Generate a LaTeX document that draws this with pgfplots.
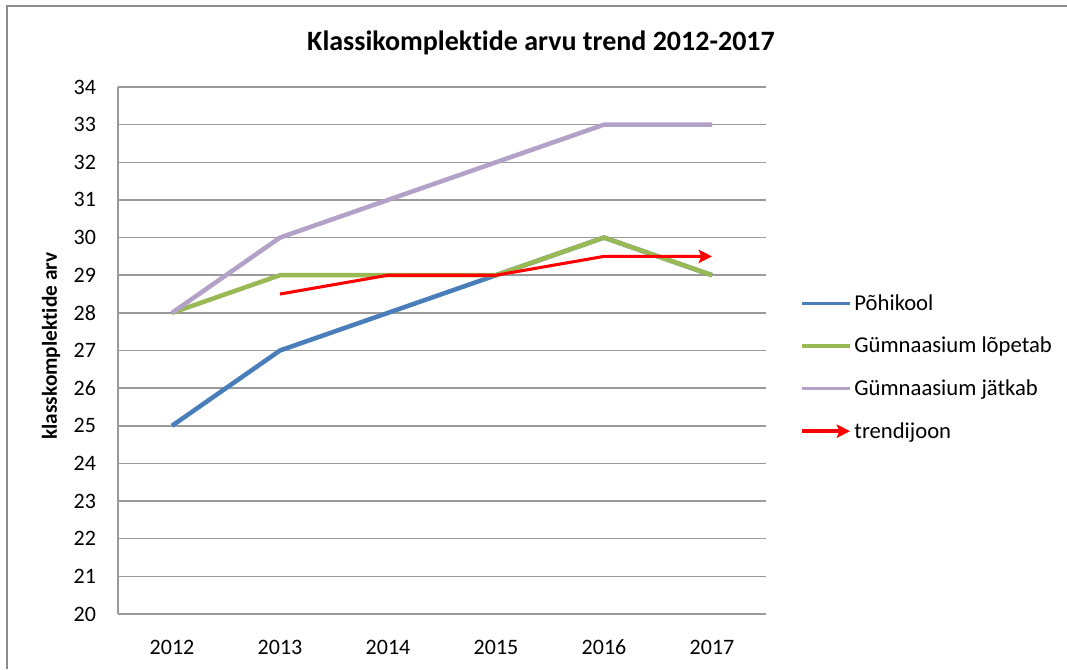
\documentclass[border=0pt]{standalone}
\usepackage{pgfplots}
\pgfplotsset{compat=1.18}
\usepackage{fontspec}
\setmainfont{Carlito}[Ligatures={NoCommon}]
\usetikzlibrary{arrows.meta}
\definecolor{cblue}{HTML}{4A7EBB}
\definecolor{cgreen}{HTML}{98B954}
\definecolor{cpurple}{HTML}{B3A2C7}
\definecolor{cgrid}{HTML}{9A9A9A}
\definecolor{cframe}{HTML}{8C8C8C}
\begin{document}
\begin{tikzpicture}[x=0.75pt,y=0.75pt]
\useasboundingbox (0,0) rectangle (1067,669);
\draw[cframe, line width=1.6pt] (7,0) -- (7,663) -- (1067,663);
\node[font=\fontsize{21}{25}\selectfont\bfseries] at (541,626) {Klassikomplektide arvu trend 2012-2017};
\node[rotate=90, font=\fontsize{16}{19}\selectfont\bfseries] at (51,323) {klasskomplektide arv};
\begin{axis}[
  at={(88.5pt,41.25pt)}, anchor=south west,
  scale only axis, width=486pt, height=395.25pt,
  xmin=2011.5, xmax=2017.5, ymin=20, ymax=34,
  xtick={2012,2013,2014,2015,2016,2017},
  ytick={20,21,...,34},
  axis x line*=bottom, axis y line*=left,
  axis line style={cgrid, line width=1.2pt, -},
  separate axis lines,
  major tick length=0pt,
  ymajorgrids, grid style={cgrid, line width=1.1pt},
  /pgf/number format/assume math mode=true,
  x tick label style={/pgf/number format/1000 sep={}, font=\fontsize{16.5}{19}\selectfont, yshift=-16pt},
  y tick label style={font=\fontsize{16.5}{19}\selectfont, xshift=-13pt},
  legend style={draw=none, fill=none, at={(1.0525,0.468)}, anchor=west,
    font=\fontsize{17}{20}\selectfont, row sep=14.6pt, inner sep=0pt},
  legend cell align=left,
  legend image code/.code={\draw[#1, line width=2.6pt] (0pt,0pt) -- (36pt,0pt);},
  clip=false,
]
\addplot[cblue, line width=3.4pt] coordinates {(2012,25) (2013,27) (2014,28) (2015,29) (2016,30) (2017,29)};
\addlegendentry{Põhikool}
\addplot[cgreen, line width=3.4pt] coordinates {(2012,28) (2013,29) (2014,29) (2015,29) (2016,30) (2017,29)};
\addlegendentry{Gümnaasium lõpetab}
\addplot[cpurple, line width=3.4pt] coordinates {(2012,28) (2013,30) (2014,31) (2015,32) (2016,33) (2017,33)};
\addlegendentry{Gümnaasium jätkab}
\addplot[red, line width=2.3pt, -{Stealth[length=10pt,width=10pt,inset=2pt]}] coordinates {(2013,28.5) (2014,29) (2015,29) (2016,29.5) (2017,29.5)};
\addlegendentry{trendijoon}
\end{axis}
\end{tikzpicture}
\end{document}
